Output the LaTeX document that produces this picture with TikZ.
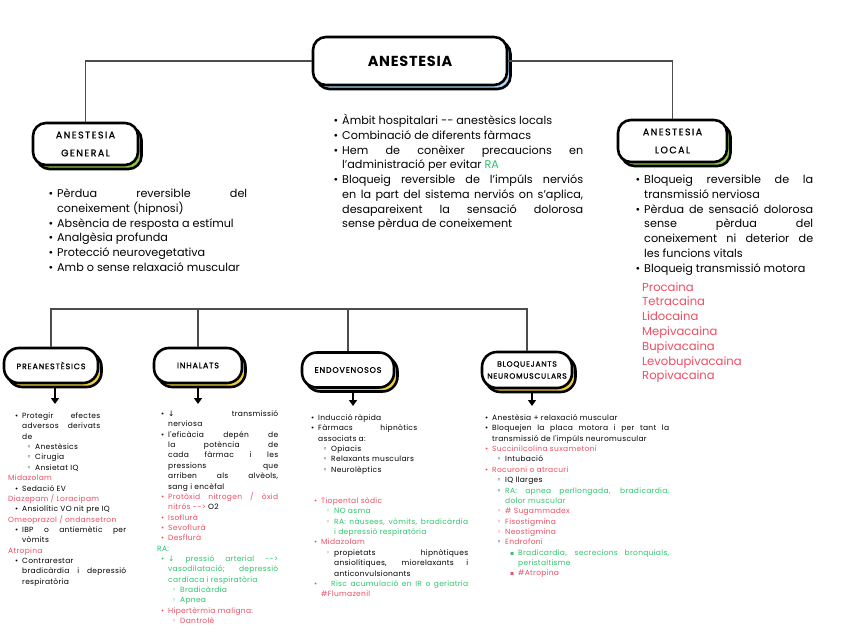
\documentclass[tikz,border=0pt]{standalone}
\usepackage{fontspec}
\setmainfont{Poppins}
\newfontfamily\dv{DejaVu Sans}
\newfontfamily\boxf{Poppins}[LetterSpace=10,FakeBold=1]
\newfontfamily\bigboxf{Poppins}[LetterSpace=15,FakeBold=1]
\newfontfamily\topf{Poppins}[LetterSpace=5]
\newfontfamily\colf{Poppins}[LetterSpace=4]
\usepackage{enumitem}
\usetikzlibrary{arrows.meta,shadows}
\setlist[itemize]{nosep,labelsep=4pt}
\setlength{\parindent}{0pt}
\hyphenpenalty=10000
\exhyphenpenalty=10000
\tolerance=10000
\definecolor{lred}{HTML}{EE4D62}
\definecolor{lgreen}{HTML}{2DC46C}
\definecolor{lblue}{HTML}{A9D4F5}
\definecolor{lgreenbox}{HTML}{8CC63F}
\definecolor{lyellow}{HTML}{EFCE3A}
\newcommand\bu{\textbullet}
\newcommand\ci{{\dv\fontsize{7.5}{7.5}\selectfont ◦}}
\newcommand\sqb{{\dv\fontsize{6}{6}\selectfont ▪}}
\newcommand\rb{\item[\textcolor{lred}{\bu}]}
\newcommand\gb{\item[\textcolor{lgreen}{\bu}]}
\newcommand\rc{\item[\textcolor{lred}{\ci}]}
\newcommand\gc{\item[\textcolor{lgreen}{\ci}]}
\newcommand\rs{\item[\textcolor{lred}{\sqb}]}
\newcommand\gs{\item[\textcolor{lgreen}{\sqb}]}
\newcommand\R[1]{\textcolor{lred}{#1}}
\newcommand\G[1]{\textcolor{lgreen}{#1}}
\newcommand\bigtxt{\fontsize{11.2}{14.7}\selectfont}
\newcommand\coltxt{\colf\fontsize{7.5}{10.35}\selectfont}
\begin{document}
\begin{tikzpicture}[x=1pt,y=-1pt,
  conn/.style={draw=black!70, line width=1.1pt},
  arr/.style={line width=1.7pt, -{Triangle[length=6pt,width=8pt]}},
  bigbox/.style={draw, line width=2.6pt, rounded corners=13pt, fill=white, align=center, inner sep=2pt},
  colbox/.style={draw, line width=2.6pt, rounded corners=15pt, fill=white, align=center, inner sep=1pt},
  shad/.style={copy shadow={shadow xshift=3.5pt, shadow yshift=-4pt, fill=#1, draw=black, line width=2.6pt}},
  txt/.style={anchor=north west, inner sep=0pt, align=justify},
  boxfont/.style={font=\bigboxf\fontsize{9.5}{18}\selectfont},
  colfont/.style={font=\boxf\fontsize{8}{12}\selectfont}
]
\useasboundingbox (0,0) rectangle (848,636);

% top boxes
\node[bigbox, shad=lblue, minimum width=194, minimum height=48,
      font=\topf\fontsize{14.5}{16}\selectfont\bfseries] (ane) at (410,61) {ANESTESIA};
\node[bigbox, shad=lgreenbox, minimum width=105, minimum height=42, boxfont] (gen) at (85.5,144) {ANESTESIA\\GENERAL};
\node[bigbox, shad=lgreenbox, minimum width=109, minimum height=42, boxfont] (loc) at (672.5,141) {ANESTESIA\\LOCAL};

\draw[conn] (ane.west) -| (gen.north);
\draw[conn] (ane.east) -| (loc.north);

% general text
\node[txt, text width=203] (gtxt) at (44,183) {\bigtxt
\begin{itemize}[leftmargin=13pt]
\item Pèrdua reversible del\linebreak coneixement (hipnosi)
\item Absència de resposta a estímul
\item Analgèsia profunda
\item Protecció neurovegetativa
\item Amb o sense relaxació muscular
\end{itemize}};

% middle text
\node[txt, text width=250] (mtxt) at (333,110) {\bigtxt
\begin{itemize}[leftmargin=9pt]
\item Àmbit hospitalari {-}{-} anestèsics locals
\item Combinació de diferents fàrmacs
\item Hem de conèixer precaucions en\linebreak l'administració per evitar \G{RA}
\item Bloqueig reversible de l'impúls nerviós\linebreak en la part del sistema nerviós on s'aplica,\linebreak desapareixent la sensació dolorosa\linebreak sense pèrdua de coneixement
\end{itemize}};

% local text
\node[txt, text width=183] (ltxt) at (630,169) {\bigtxt
\begin{itemize}[leftmargin=14pt]
\item Bloqueig reversible de la\linebreak transmissió nerviosa
\item Pèrdua de sensació dolorosa\linebreak sense pèrdua del\linebreak coneixement ni deterior de\linebreak les funcions vitals
\item Bloqueig transmissió motora
\end{itemize}};

\node[txt, align=left, text=lred, font=\fontsize{11.6}{14.8}\selectfont] (lred) at (642,282)
  {Procaina\\Tetracaina\\Lidocaina\\Mepivacaina\\Bupivacaina\\Levobupivacaina\\Ropivacaina};

% column boxes
\node[colbox, shad=lyellow, minimum width=94, minimum height=35, colfont] (pre) at (51,365.5) {PREANESTÈSICS};
\node[colbox, shad=lyellow, minimum width=88, minimum height=35, colfont] (inh) at (198,365.5) {INHALATS};
\node[colbox, shad=lyellow, minimum width=92, minimum height=35, colfont] (endo) at (348,370) {ENDOVENOSOS};
\node[colbox, shad=lyellow, minimum width=90, minimum height=36, font=\boxf\fontsize{7.6}{12}\selectfont] (bloq) at (527,370) {BLOQUEJANTS\\NEUROMUSCULARS};

% bar
\coordinate (bar) at (290,309);
\draw[conn] (pre.north) |- (bar) -| (bloq.north);
\draw[conn] (inh.north) -- (inh.north |- bar);
\draw[conn] (endo.north) -- (endo.north |- bar);

% arrows
\coordinate (preA) at (55,404);
\coordinate (inhA) at (198,404);
\coordinate (endoA) at (353,406);
\coordinate (bloqA) at (532,406);
\draw[arr] (preA |- pre.south) ++(0,3) -- (preA);
\draw[arr] (inhA |- inh.south) ++(0,3) -- (inhA);
\draw[arr] (endoA |- endo.south) ++(0,3) -- (endoA);
\draw[arr] (bloqA |- bloq.south) ++(0,3) -- (bloqA);

% column 1
\node[txt, text width=118] (c1) at (8,408) {\coltxt
\begin{itemize}[leftmargin=14pt, rightmargin=26pt]
\item Protegir efectes\linebreak adversos derivats\linebreak de
  \begin{itemize}[leftmargin=13pt, label=\ci]
  \item Anestèsics
  \item Cirugia
  \item Ansietat IQ
  \end{itemize}
\end{itemize}
\R{Midazolam}
\begin{itemize}[leftmargin=14pt]
\item Sedació EV
\end{itemize}
\R{Diazepam / Loracipam}
\begin{itemize}[leftmargin=14pt]
\item Ansiolític VO nit pre IQ
\end{itemize}
\R{Omeoprazol / ondansetron}
\begin{itemize}[leftmargin=14pt]
\item IBP o antiemètic per\linebreak vòmits
\end{itemize}
\R{Atropina}
\begin{itemize}[leftmargin=14pt]
\item Contrarestar\\ bradicàrdia i depressió\linebreak respiratòria
\end{itemize}};

% column 2
\node[txt, text width=121] (c2) at (157,406) {\coltxt
\begin{itemize}[leftmargin=11pt]
\item {\dv↓} transmissió\linebreak nerviosa
\item l'eficàcia depén de\linebreak la potència de\linebreak cada fàrmac i les\linebreak pressions que\linebreak arriben als alvèols,\linebreak sang i encèfal
\rb \R{Protòxid nitrogen / òxid\linebreak nitrós {-}{-}> }O2
\rb \R{Isoflurà}
\rb \R{Sevoflurà}
\rb \R{Desflurà}
\end{itemize}
\G{RA:}
\begin{itemize}[leftmargin=11pt]
\gb \G{{\dv↓} pressió arterial {-}{-}>\linebreak vasodilatació; depressió\linebreak cardíaca i respiratòria}
  \begin{itemize}[leftmargin=12pt]
  \gc \G{Bradicàrdia}
  \gc \G{Apnea}
  \end{itemize}
\rb \R{Hipertèrmia maligna:}
  \begin{itemize}[leftmargin=12pt]
  \rc \R{Dantrolè}
  \end{itemize}
\end{itemize}};

% column 3
\node[txt, text width=111] (c3a) at (306,410) {\coltxt
\begin{itemize}[leftmargin=12pt]
\item Inducció ràpida
\item Fàrmacs hipnòtics\linebreak associats a:
  \begin{itemize}[leftmargin=13pt, label=\ci]
  \item Opiacis
  \item Relaxants musculars
  \item Neurolèptics
  \end{itemize}
\end{itemize}};

\node[txt, text width=162] (c3b) at (306,493) {\coltxt
\begin{itemize}[leftmargin=15pt]
\rb \R{Tiopental sòdic}
  \begin{itemize}[leftmargin=13pt]
  \gc \G{NO asma}
  \rc \G{RA: nàusees, vòmits, bradicàrdia\linebreak i depressió respiratòria}
  \end{itemize}
\rb \R{Midazolam}
  \begin{itemize}[leftmargin=13pt]
  \rc propietats hipnòtiques\linebreak ansiolítiques, miorelaxants i\linebreak anticonvulsionants
  \end{itemize}
\rb \hspace*{10pt}\G{Risc acumulació en IR o geriatria}\linebreak \R{\#Flumazenil}
\end{itemize}};

% column 4
\node[txt, text width=191] (c4) at (478,410) {\coltxt
\begin{itemize}[leftmargin=14pt]
\item Anestèsia + relaxació muscular
\item Bloquejen la placa motora i per tant la\linebreak transmissió de l'impúls neuromuscular
\rb \R{Succinilcolina suxametoni}
  \begin{itemize}[leftmargin=13pt]
  \item[\ci] Intubació
  \end{itemize}
\rb \R{Rocuroni o atracuri}
  \begin{itemize}[leftmargin=13pt]
  \item[\ci] IQ llarges
  \item[\ci] \G{RA: apnea perllongada, bradicardia,\linebreak dolor muscular}
  \rc \R{\# Sugammadex}
  \rc \R{Fisostigmina}
  \rc \R{Neostigmina}
  \item[\ci] \R{Endrofoni}
    \begin{itemize}[leftmargin=13pt]
    \gs \G{Bradicardia, secrecions bronquials,\linebreak peristaltisme}
    \rs \R{\#Atropina}
    \end{itemize}
  \end{itemize}
\end{itemize}};
\end{tikzpicture}
\end{document}
